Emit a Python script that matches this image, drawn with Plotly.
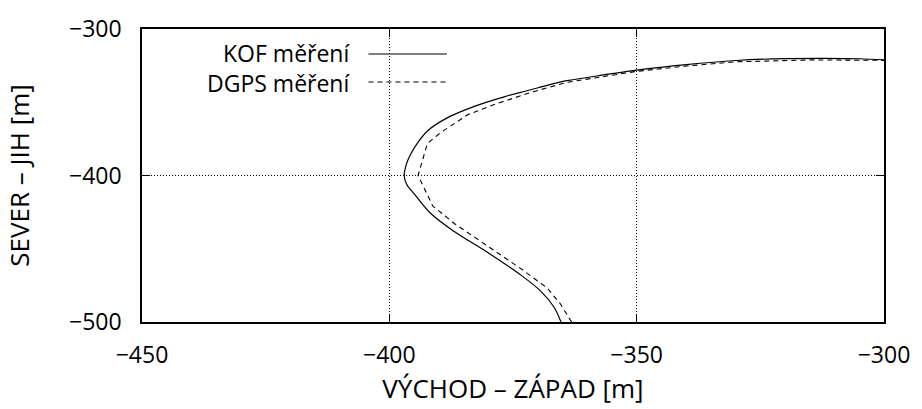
import plotly.graph_objects as go

# KOF measurement (solid)
kof_x = [-365.3, -366.7, -369.4, -373.4, -380.1, -386.8, -391.5, -394.8, -396.5, -397.0,
         -396.7, -396.2, -394.8, -392.2, -388.2, -382.8, -376.8, -370.1, -364.1, -360.0,
         -350.0, -340.0, -329.9, -320.0, -312.0, -305.0, -300.0]
kof_y = [-500.0, -489.9, -478.9, -468.0, -452.6, -438.4, -426.3, -413.2, -406.0, -400.0,
         -394.0, -389.0, -380.3, -369.3, -360.5, -352.8, -346.3, -340.3, -335.3, -333.1,
         -328.1, -324.3, -321.5, -320.2, -320.0, -320.3, -321.0]

# DGPS measurement (dashed)
dgps_x = [-363.1, -363.4, -365.4, -368.1, -373.4, -380.1, -386.8, -391.2, -394.2,
          -392.3, -389.5, -384.1, -378.1, -370.7, -364.1, -350.0, -340.0, -330.0,
          -314.5, -300.0]
dgps_y = [-500.0, -498.7, -487.7, -476.8, -463.6, -448.2, -432.9, -420.9, -400.0,
          -378.1, -370.4, -358.4, -350.7, -342.6, -336.4, -328.9, -325.3, -322.4,
          -321.1, -321.4]

x_ticks = [-450, -400, -350, -300]
y_ticks = [-500, -400, -300]
series_names = ["KOF měření", "DGPS měření"]

FONT = "Open Sans"

fig = go.Figure()
fig.add_trace(go.Scatter(x=kof_x, y=kof_y, mode="lines", name=series_names[0],
                         line=dict(color="black", width=1.2, shape="spline", smoothing=1.0)))
fig.add_trace(go.Scatter(x=dgps_x, y=dgps_y, mode="lines", name=series_names[1],
                         line=dict(color="black", width=1.1, dash="5px,4px")))

axis_common = dict(
    showline=True, linecolor="black", linewidth=1.6, mirror="all",
    ticks="inside", ticklen=8, tickwidth=1.2, tickcolor="black",
    showgrid=True, gridcolor="black", gridwidth=1, griddash="1px,2px",
    zeroline=False,
    tickfont=dict(family=FONT, size=23, color="black"),
)

fig.update_xaxes(range=[-450, -300], tickvals=x_ticks, **axis_common,
                 ticklabelstandoff=12,
                 title=dict(text="VÝCHOD – ZÁPAD [m]", font=dict(family=FONT, size=26, color="black"),
                            standoff=8))
fig.update_yaxes(range=[-500, -300], tickvals=y_ticks, **axis_common,
                 ticklabelstandoff=14,
                 title=dict(text="SEVER – JIH [m]", font=dict(family=FONT, size=26, color="black"),
                            standoff=32))

# legend drawn manually: right-aligned text block with sample lines on the right
legend_dash = ["solid", "5px,4px"]
legend_rows_py = [44, 73]
W, H = 922, 409
l, r, t, b = 142, 33, 18, 87
pw, ph = W - l - r, H - t - b
mid_py = sum(legend_rows_py) / 2
fig.add_annotation(xref="paper", yref="paper", x=(352 - l) / pw, y=1 - (mid_py - t) / ph,
                   xanchor="right", yanchor="middle", align="right",
                   text="<br>".join(series_names), showarrow=False, borderpad=0,
                   font=dict(family=FONT, size=23, color="black"))
for dash, py in zip(legend_dash, legend_rows_py):
    yp = 1 - (py - t) / ph
    fig.add_shape(type="line", xref="paper", yref="paper",
                  x0=(370 - l) / pw, x1=(449 - l) / pw, y0=yp, y1=yp,
                  line=dict(color="black", width=1.1, dash=dash))

fig.update_layout(
    width=W, height=H, showlegend=False,
    margin=dict(l=l, r=r, t=t, b=b),
    plot_bgcolor="white", paper_bgcolor="white",
    font=dict(family=FONT, color="black"),
)

fig.write_html("out.html")
